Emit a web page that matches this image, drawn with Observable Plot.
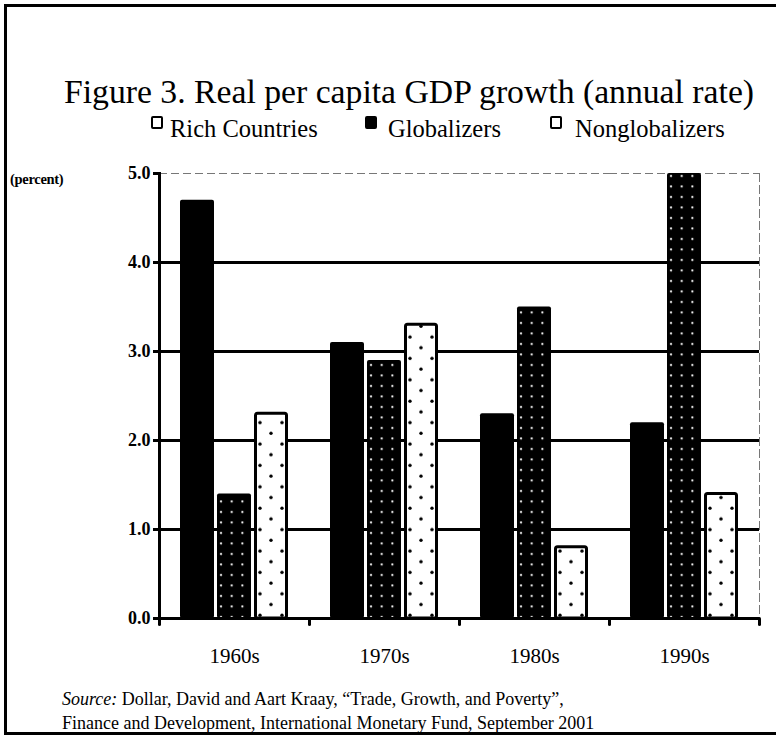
<!DOCTYPE html>
<html><head><meta charset="utf-8">
<script src="https://cdn.jsdelivr.net/npm/d3@7"></script>
<script src="https://cdn.jsdelivr.net/npm/@observablehq/plot@0.6"></script>
<style>
body{margin:0;background:#fff;overflow:hidden;font-family:"Liberation Serif","Times New Roman",serif;color:#000;}
#wrap{position:relative;width:776px;height:737px;overflow:hidden;}
#frame{position:absolute;left:4px;top:4px;width:820px;height:725px;border-left:3px solid #000;border-top:3px solid #000;border-bottom:3px solid #000;}
#title{position:absolute;left:64px;top:73px;font-size:33.7px;white-space:nowrap;}
.leg{position:absolute;top:115px;font-size:24.5px;white-space:nowrap;}
.mk{position:absolute;top:116px;width:8px;height:9px;border:2px solid #000;border-radius:2px;background:#fff;}
#pct{position:absolute;left:10px;top:171px;font-size:14.5px;font-weight:bold;letter-spacing:-0.3px;}
#chart{position:absolute;left:0;top:150px;}
.src{position:absolute;left:62px;font-size:18px;white-space:nowrap;}
</style></head>
<body><div id="wrap">
<div id="frame"></div>
<div id="title">Figure 3. Real per capita GDP growth (annual rate)</div>
<div class="mk" style="left:151px"></div><div class="leg" style="left:170px">Rich Countries</div>
<div class="mk" style="left:365px;background:#000"></div><div class="leg" style="left:388px">Globalizers</div>
<div class="mk" style="left:550px"></div><div class="leg" style="left:575px">Nonglobalizers</div>
<div id="pct">(percent)</div>
<div id="chart"></div>
<div class="src" style="top:689px"><i>Source:</i> Dollar, David and Aart Kraay, “Trade, Growth, and Poverty”,</div>
<div class="src" style="top:713px">Finance and Development, International Monetary Fund, September 2001</div>
</div>
<script>
const decades = ["1960s", "1970s", "1980s", "1990s"];
const seriesNames = ["Rich Countries", "Globalizers", "Nonglobalizers"];
const rich = [4.7, 3.1, 2.3, 2.2];
const globalizers = [1.4, 2.9, 3.5, 5.0];
const nonglobalizers = [2.3, 3.3, 0.8, 1.4];
const yTicks = [0, 1, 2, 3, 4, 5];
const gridValues = [1, 2, 3, 4];

const rows = decades.flatMap((d, i) => [
  {decade: d, series: seriesNames[0], value: rich[i]},
  {decade: d, series: seriesNames[1], value: globalizers[i]},
  {decade: d, series: seriesNames[2], value: nonglobalizers[i]}
]);

const serif = '"Liberation Serif", "Times New Roman", serif';
const spike = {draw(ctx, l) { ctx.moveTo(0, 0); ctx.lineTo(0, -l); }};

const chart = Plot.plot({
  width: 776,
  height: 530,
  marginTop: 23,
  marginBottom: 62,
  marginLeft: 157,
  marginRight: 16,
  style: {fontFamily: serif, background: "transparent"},
  fx: {domain: decades, padding: 0},
  x: {domain: seriesNames, paddingInner: 0.08, paddingOuter: 0.525, axis: null},
  y: {domain: [0, 5]},
  marks: [
    Plot.ruleY([5], {stroke: "#777", strokeWidth: 1, strokeDasharray: "8,4"}),
    Plot.frame({anchor: "right", fx: () => "1990s", stroke: "#777", strokeWidth: 1, strokeDasharray: "8,4"}),
    Plot.ruleY(gridValues, {stroke: "#000", strokeWidth: 3}),
    Plot.barY(rows, {filter: d => d.series === seriesNames[0], fx: "decade", x: "series", y: "value", fill: "#000", rx: 2}),
    Plot.barY(rows, {filter: d => d.series === seriesNames[1], fx: "decade", x: "series", y: "value", fill: "url(#globPat)", rx: 2}),
    Plot.barY(rows, {filter: d => d.series === seriesNames[2], fx: "decade", x: "series", y: "value", fill: "url(#nonPat)", stroke: "#000", strokeWidth: 3, insetLeft: 1.5, insetRight: 1.5, rx: 2}),
    Plot.ruleY([0], {stroke: "#000", strokeWidth: 3}),
    Plot.frame({anchor: "left", fx: () => "1960s", stroke: "#000", strokeWidth: 3}),
    Plot.vector(decades, {fx: d => d, frameAnchor: "bottom-left", length: 6, rotate: 180, anchor: "start", shape: spike, stroke: "#000", strokeWidth: 3}),
    Plot.vector([decades[3]], {fx: d => d, frameAnchor: "bottom-right", length: 6, rotate: 180, anchor: "start", shape: spike, stroke: "#000", strokeWidth: 3}),
    Plot.axisY(yTicks, {tickFormat: d3.format(".1f"), tickSize: 6, tickPadding: 3, fontSize: 18, fontWeight: "bold", fontFamily: serif, strokeWidth: 3, label: null}),
    Plot.axisFx({anchor: "bottom", tickSize: 0, tickPadding: 30, fontSize: 21, fontFamily: serif, label: null})
  ]
});

const sel = d3.select(chart);
const defs = sel.insert("defs", ":first-child");
const g = defs.append("pattern").attr("id", "globPat").attr("patternUnits", "userSpaceOnUse").attr("width", 10.7).attr("height", 10.5);
g.append("rect").attr("width", 10.7).attr("height", 10.5).attr("fill", "#000");
g.append("circle").attr("cx", 5).attr("cy", 5).attr("r", 1.1).attr("fill", "#fff");
const n = defs.append("pattern").attr("id", "nonPat").attr("patternUnits", "userSpaceOnUse").attr("width", 22).attr("height", 21.4);
n.append("rect").attr("width", 22).attr("height", 21.4).attr("fill", "#fff");
n.append("circle").attr("cx", 5).attr("cy", 5).attr("r", 1.7).attr("fill", "#000");
n.append("circle").attr("cx", 16).attr("cy", 15.7).attr("r", 1.7).attr("fill", "#000");

document.getElementById("chart").appendChild(chart);
</script>
</body></html>
